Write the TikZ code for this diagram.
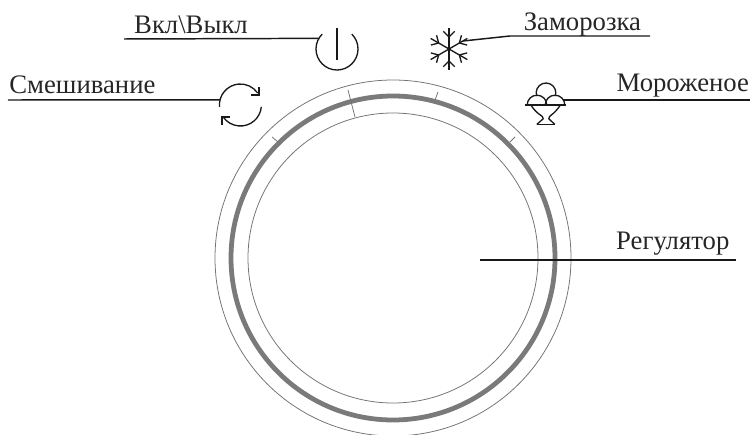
\documentclass[tikz,border=0pt]{standalone}
\usepackage{fontspec}
\setmainfont{Liberation Serif}
\tikzset{
  lbl/.style={font=\fontsize{19}{21}\selectfont, inner sep=0pt, text=black!85},
  leader/.style={line width=1.05pt, black!90},
  ico/.style={line width=0.95pt, black!90},
  anchorcirc/.style={circle, inner sep=0pt, minimum size=#1},
  thinring/.style={line width=0.55pt, black!55},
  thickring/.style={line width=3.4pt, black!52},
}
\begin{document}
\begin{tikzpicture}
\useasboundingbox (0,0) rectangle (18.8,10.85);
\draw[thinring] (9.825,4.4) circle (4.45);
\draw[thickring] (9.825,4.4) circle (4.05);
\draw[thinring] (9.825,4.4) circle (3.625);
\draw[thinring] (8.7,8.6) -- (8.875,7.925);
\draw[thinring] (10.95,8.55) -- (10.875,8.35);
\draw[thinring] (12.875,7.425) -- (12.75,7.3);
\draw[thinring] (6.8,7.425) -- (6.95,7.3);
\node[lbl] (lblpower) at (4.775,10.22) {Вкл\textbackslash Выкл};
\node[lbl] (lblfreeze) at (14.56,10.25) {Заморозка};
\node[lbl] (lblmix) at (2.06,8.74) {Смешивание};
\node[lbl] (lblice) at (17.07,8.72) {Мороженое};
\node[lbl] (lblreg) at (16.82,4.75) {Регулятор};
\node[anchorcirc=1.05cm] (power) at (8.425,9.625) {};
\node[anchorcirc=1.05cm] (mix) at (6.01,8.225) {};
\node[anchorcirc=1cm] (flake) at (11.225,9.625) {};
\node[anchorcirc=0.1cm] (dial) at (11.95,4.35) {};
\coordinate (powerend) at (3.1,9.875);
\coordinate (freezeend) at (16.25,9.95);
\coordinate (freezebend) at (12.75,9.95);
\coordinate (flaketip) at (11.575,9.825);
\coordinate (mixend) at (0.2,8.35);
\coordinate (iceend) at (18.75,8.35);
\coordinate (icestart) at (14.08,8.35);
\coordinate (regend) at (18.4,4.35);
\draw[leader] (powerend) -- (power.150);
\draw[leader] (freezeend) -- (freezebend) -- (flaketip);
\draw[leader] (mixend) -- (mix.166);
\draw[leader] (iceend) -- (icestart);
\draw[leader] (regend) -- (dial);
\draw[ico] (8.425,9.625) ++(135:0.525) arc (135:405:0.525);
\draw[ico] (8.425,10.15) -- (8.425,9.35);
\draw[ico] (6.01,8.225) ++(185:0.525) arc (185:35:0.525);
\draw[ico] (6.01,8.225) ++(-5:0.525) arc (-5:-145:0.525);
\draw[ico] (6.475,8.675) -- (6.475,8.475) -- (6.275,8.475);
\draw[ico] (5.55,7.725) -- (5.55,7.925) -- (5.75,7.925);
\foreach \a in {30,90,...,330} {
  \draw[ico] (11.225,9.625) -- ++(\a:0.53);
  \draw[ico] (11.225,9.625) ++(\a:0.3) -- ++(\a+45:0.2);
  \draw[ico] (11.225,9.625) ++(\a:0.3) -- ++(\a-45:0.2);
}
\draw[ico] (13.18,8.225) arc (180:0:0.245);
\draw[ico] (13.63,8.225) arc (180:0:0.245);
\draw[ico] (13.42,8.446) arc (200:-20:0.245);
\draw[ico, line width=1.2pt] (13.12,8.225) -- (14.16,8.225);
\draw[ico] (13.27,8.225) .. controls (13.45,7.95) and (13.58,7.98) .. (13.58,7.88) -- (13.42,7.74);
\draw[ico] (14.01,8.225) .. controls (13.83,7.95) and (13.72,7.98) .. (13.72,7.88) -- (13.87,7.74);
\draw[ico, line width=1.2pt] (13.42,7.74) -- (13.87,7.74);
\end{tikzpicture}
\end{document}
